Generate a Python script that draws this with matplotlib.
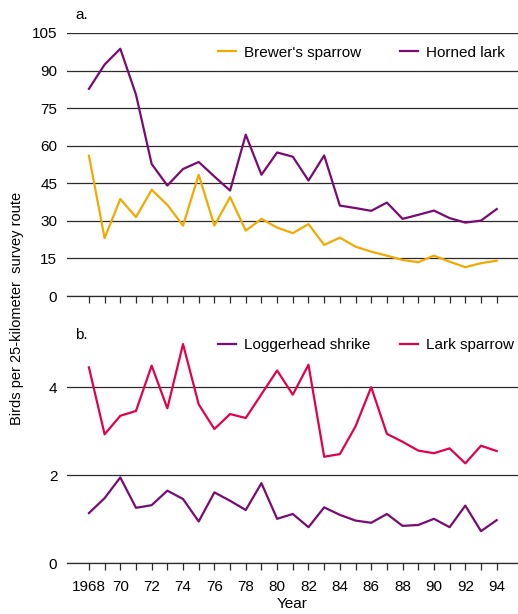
import matplotlib
matplotlib.use("Agg")
import matplotlib.pyplot as plt
from matplotlib.legend import Legend

plt.rcParams["font.family"] = ["Liberation Sans", "DejaVu Sans"]

years = list(range(1968, 1995))

brewers_sparrow = [56.0, 23.1, 38.7, 31.5, 42.4, 36.4, 28.1, 48.4, 28.1, 39.5,
                   26.1, 30.8, 27.3, 25.1, 28.7, 20.4, 23.3, 19.7, 17.7, 16.1,
                   14.4, 13.5, 16.1, 13.7, 11.5, 13.1, 14.1]
horned_lark = [82.7, 92.4, 98.7, 80.4, 52.7, 44.1, 50.7, 53.5, 47.7, 42.1,
               64.4, 48.4, 57.3, 55.6, 46.1, 56.1, 36.1, 35.1, 34.0, 37.3,
               30.8, 32.4, 34.1, 31.1, 29.3, 30.1, 34.7]
loggerhead_shrike = [1.14, 1.48, 1.95, 1.26, 1.32, 1.65, 1.46, 0.95, 1.61, 1.42,
                     1.21, 1.82, 1.01, 1.12, 0.82, 1.27, 1.10, 0.97, 0.92, 1.12,
                     0.85, 0.87, 1.01, 0.82, 1.31, 0.73, 0.98]
lark_sparrow = [4.45, 2.93, 3.35, 3.46, 4.49, 3.52, 4.98, 3.61, 3.05, 3.39,
                3.30, 3.84, 4.38, 3.83, 4.51, 2.42, 2.48, 3.11, 4.00, 2.94,
                2.76, 2.56, 2.50, 2.61, 2.27, 2.67, 2.55]

top_ticks = [0, 15, 30, 45, 60, 75, 90, 105]
bottom_ticks = [0, 2, 4]
year_labels = ["1968" if y == 1968 else f"{y % 100:02d}" if y % 2 == 0 else ""
               for y in years]

ORANGE = "#F2A900"
PURPLE = "#7A0A74"
RED = "#E2004F"
GRID = "#2a2a2a"
FS = 11

fig = plt.figure(figsize=(5.18, 6.14), dpi=100)
ax_a = fig.add_axes([0.1293, 0.5179, 0.8707, 0.4284])
ax_b = fig.add_axes([0.1293, 0.0826, 0.8707, 0.3800])


def style_axes(ax, ticks, ymax):
    ax.set_xlim(1966.6, 1995.36)
    ax.set_ylim(0, ymax)
    ax.set_yticks(ticks)
    ax.set_xticks(years)
    for side in ("top", "right", "left"):
        ax.spines[side].set_visible(False)
    ax.spines["bottom"].set_color(GRID)
    ax.spines["bottom"].set_linewidth(0.9)
    ax.yaxis.grid(True, color=GRID, linewidth=0.9)
    ax.set_axisbelow(True)
    ax.tick_params(axis="y", length=0, pad=7, labelsize=FS)
    ax.tick_params(axis="x", direction="out", length=5, width=0.9,
                   color=GRID, labelsize=FS, pad=7)


def legend_entry(ax, line, x, y):
    # one free-floating legend per series so each can sit at its own x
    leg = Legend(ax, [line], [line.get_label()], loc="center left",
                 bbox_to_anchor=(x, y), frameon=False, fontsize=FS,
                 handlelength=1.2, handletextpad=0.5, borderaxespad=0,
                 borderpad=0)
    ax.add_artist(leg)


# panel a: Brewer's sparrow and horned lark
style_axes(ax_a, top_ticks, 105)
ax_a.set_xticklabels([])
b_line, = ax_a.plot(years, brewers_sparrow, color=ORANGE, lw=1.6,
                    label="Brewer's sparrow")
h_line, = ax_a.plot(years, horned_lark, color=PURPLE, lw=1.6,
                    label="Horned lark")
legend_entry(ax_a, b_line, 0.335, 0.925)
legend_entry(ax_a, h_line, 0.738, 0.925)

# panel b: loggerhead shrike and lark sparrow
style_axes(ax_b, bottom_ticks, 5.30)
ax_b.set_xticklabels(year_labels)
l_line, = ax_b.plot(years, loggerhead_shrike, color=PURPLE, lw=1.6,
                    label="Loggerhead shrike")
s_line, = ax_b.plot(years, lark_sparrow, color=RED, lw=1.6,
                    label="Lark sparrow")
legend_entry(ax_b, l_line, 0.335, 0.935)
legend_entry(ax_b, s_line, 0.738, 0.935)
ax_b.set_xlabel("Year", fontsize=FS, labelpad=2)

fig.text(0.145, 0.975, "a.", fontsize=FS, ha="left", va="center")
fig.text(0.145, 0.454, "b.", fontsize=FS, ha="left", va="center")
fig.text(0.033, 0.497, "Birds per 25-kilometer  survey route", fontsize=10.5,
         rotation=90, ha="center", va="center")

fig.savefig("out.png", dpi=100)
